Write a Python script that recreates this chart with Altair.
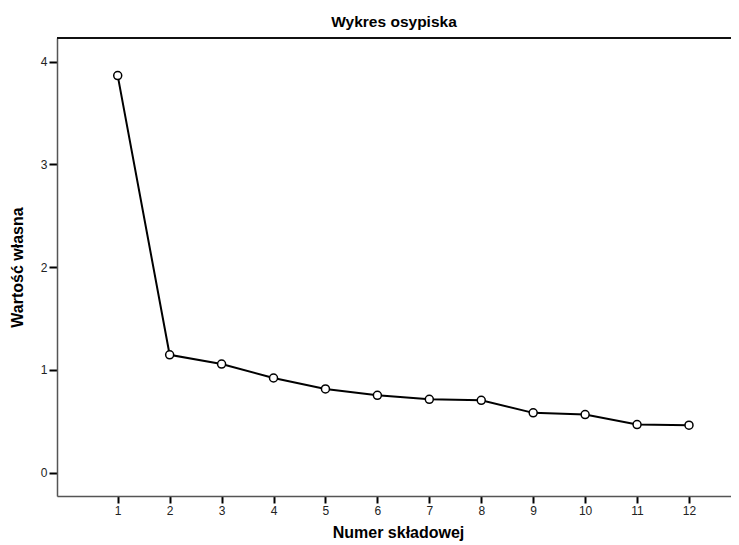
import altair as alt
import pandas as pd

components = [1, 2, 3, 4, 5, 6, 7, 8, 9, 10, 11, 12]
eigenvalues = [3.863, 1.147, 1.057, 0.921, 0.815, 0.753, 0.714, 0.704, 0.582, 0.565, 0.468, 0.462]
x_ticks = [1, 2, 3, 4, 5, 6, 7, 8, 9, 10, 11, 12]
y_ticks = [0, 1, 2, 3, 4]

df = pd.DataFrame({"comp": components, "eig": eigenvalues})

FONT = "Liberation Sans"
W, H = 674, 458

x_enc = alt.X(
    "comp:Q",
    scale=alt.Scale(domain=[-0.169, 12.809], nice=False, zero=False),
    axis=alt.Axis(
        title="Numer składowej",
        values=x_ticks,
        format="d",
        grid=False,
        domainColor="#555555",
        domainWidth=1.5,
        tickColor="#000000",
        tickWidth=2,
        tickSize=7,
        labelFont=FONT,
        labelFontSize=12,
        labelColor="#222222",
        labelPadding=2,
        titleFont=FONT,
        titleFontSize=16,
        titleFontWeight="bold",
        titleColor="#000000",
        titleX=341,
        titleY=41,
        titleAlign="center",
        titleBaseline="alphabetic",
    ),
)

y_enc = alt.Y(
    "eig:Q",
    scale=alt.Scale(domain=[-0.227, 4.229], nice=False, zero=False),
    axis=alt.Axis(
        title="Wartość własna",
        values=y_ticks,
        format="d",
        grid=False,
        domainColor="#555555",
        domainWidth=1.5,
        tickColor="#000000",
        tickWidth=2,
        tickSize=8,
        labelFont=FONT,
        labelFontSize=12,
        labelColor="#222222",
        labelPadding=2,
        titleFont=FONT,
        titleFontSize=16,
        titleFontWeight="bold",
        titleColor="#000000",
        titleX=-40,
        titleY=229,
        titleAlign="center",
        titleBaseline="middle",
        titleAngle=270,
    ),
)

line = alt.Chart(df).mark_line(color="#000000", strokeWidth=2).encode(x=x_enc, y=y_enc)
pts = alt.Chart(df).mark_point(
    shape="circle", filled=True, fill="#ffffff", stroke="#000000",
    strokeWidth=1.5, size=64, opacity=1
).encode(x="comp:Q", y="eig:Q")

# top frame line of the plot box
top_rule = alt.Chart(df).mark_rule(color="#111111", strokeWidth=2).encode(
    x=alt.value(0), x2=alt.value(W), y=alt.value(0)
)

chart = (
    alt.layer(top_rule, line, pts)
    .properties(
        width=W,
        height=H,
        autosize=alt.AutoSizeParams(type="none"),
        padding={"left": 49, "top": 30, "right": 0, "bottom": 48},
        title=alt.TitleParams(
            "Wykres osypiska",
            font=FONT,
            fontSize=15.5,
            fontWeight="bold",
            color="#000000",
            anchor="middle",
            frame="group",
            baseline="alphabetic",
            offset=9,
            dy=14,
        ),
    )
    .configure_view(stroke=None)
    .configure(background="#ffffff")
)

chart.save("out.html", embed_options={"renderer": "svg", "actions": False})
